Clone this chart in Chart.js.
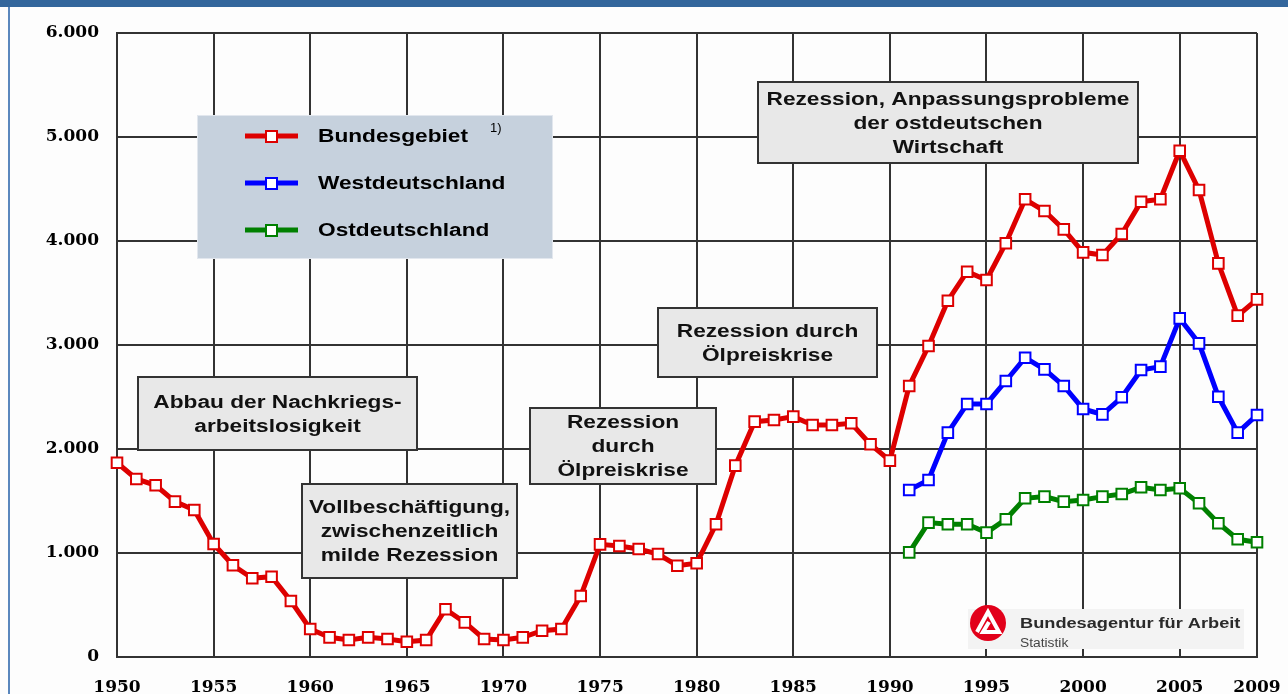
<!DOCTYPE html>
<html lang="de">
<head>
<meta charset="utf-8">
<title>Arbeitslose 1950 - 2009</title>
<script src="https://cdn.jsdelivr.net/npm/chart.js@4.4.1/dist/chart.umd.min.js"></script>
<style>
  html, body { margin: 0; padding: 0; background: #fdfdfd; }
  canvas { display: block; }
</style>
</head>
<body>
<canvas id="chart" width="1288" height="694"></canvas>
<script>
// Arbeitslose in Tausend
const years = [1950, 1951, 1952, 1953, 1954, 1955, 1956, 1957, 1958, 1959,
               1960, 1961, 1962, 1963, 1964, 1965, 1966, 1967, 1968, 1969,
               1970, 1971, 1972, 1973, 1974, 1975, 1976, 1977, 1978, 1979,
               1980, 1981, 1982, 1983, 1984, 1985, 1986, 1987, 1988, 1989,
               1990, 1991, 1992, 1993, 1994, 1995, 1996, 1997, 1998, 1999,
               2000, 2001, 2002, 2003, 2004, 2005, 2006, 2007, 2008, 2009];
const bundesgebiet = [1868, 1712, 1651, 1494, 1413, 1087, 882, 757, 772, 538,
                      269, 189, 163, 189, 173, 147, 163, 459, 333, 173,
                      163, 189, 253, 269, 587, 1083, 1067, 1038, 990, 878,
                      901, 1276, 1840, 2263, 2279, 2311, 2231, 2231, 2247, 2045,
                      1888, 2606, 2990, 3426, 3705, 3625, 3978, 4401, 4288, 4112,
                      3891, 3865, 4067, 4378, 4401, 4868, 4490, 3785, 3282, 3439];
const ostWestYears = [1991, 1992, 1993, 1994, 1995, 1996, 1997, 1998, 1999, 2000,
                      2001, 2002, 2003, 2004, 2005, 2006, 2007, 2008, 2009];
const westdeutschland = [1606, 1702, 2157, 2433, 2433, 2654, 2878, 2766, 2606, 2385,
                         2333, 2497, 2760, 2792, 3256, 3016, 2503, 2157, 2327];
const ostdeutschland = [1006, 1292, 1276, 1276, 1196, 1324, 1526, 1542, 1494, 1510,
                        1542, 1567, 1632, 1606, 1622, 1478, 1286, 1132, 1103];

const xTickYears = [1950, 1955, 1960, 1965, 1970, 1975, 1980, 1985, 1990, 1995, 2000, 2005, 2009];
const seriesNames = ['Bundesgebiet', 'Westdeutschland', 'Ostdeutschland'];
const noteTexts = [
    ['Abbau der Nachkriegs-', 'arbeitslosigkeit'],
    ['Vollbeschäftigung,', 'zwischenzeitlich', 'milde Rezession'],
    ['Rezession', 'durch', 'Ölpreiskrise'],
    ['Rezession durch', 'Ölpreiskrise'],
    ['Rezession, Anpassungsprobleme', 'der ostdeutschen', 'Wirtschaft']
];

// box layout [left, top, right, bottom]
const noteBoxes = [[138, 377, 417, 450], [302, 484, 517, 578], [530, 408, 716, 484],
                   [658, 308, 877, 377], [758, 82, 1138, 163]];

const toPoints = (xs, ys) => xs.map((x, i) => ({ x: x, y: ys[i] }));
const fmtThousand = v => String(v).replace(/\B(?=(\d{3})+(?!\d))/g, '.');

const STRETCH = 1.26;
function wideText(ctx, txt, x, y, sx) {
    ctx.save();
    ctx.translate(x, y);
    ctx.scale(sx, 1);
    ctx.fillText(txt, 0, 0);
    ctx.restore();
}

const decor = {
    id: 'decor',
    beforeDraw(chart) {
        const ctx = chart.ctx;
        ctx.save();
        ctx.fillStyle = '#fdfdfd';
        ctx.fillRect(0, 0, chart.width, chart.height);
        ctx.fillStyle = '#33669c';
        ctx.fillRect(0, 0, chart.width, 7);
        ctx.fillStyle = '#5a87bd';
        ctx.fillRect(8, 7, 2, chart.height - 7);
        ctx.restore();
    },
    beforeDatasetsDraw(chart) {
        const ctx = chart.ctx;
        ctx.save();

        // legend
        ctx.fillStyle = '#c6d1dd';
        ctx.fillRect(197, 115, 356, 144);
        ctx.strokeStyle = '#e2e7ee';
        ctx.lineWidth = 1;
        ctx.strokeRect(197.5, 115.5, 355, 143);
        chart.data.datasets.forEach((ds, i) => {
            const y = 136 + i * 47;
            ctx.strokeStyle = ds.borderColor;
            ctx.lineWidth = 5;
            ctx.beginPath();
            ctx.moveTo(245, y);
            ctx.lineTo(298, y);
            ctx.stroke();
            ctx.fillStyle = '#fff';
            ctx.fillRect(266, y - 5, 11, 11);
            ctx.lineWidth = 2;
            ctx.strokeRect(266, y - 5, 11, 11);
            ctx.fillStyle = '#000';
            ctx.font = 'bold 18px "Liberation Sans", Arial, sans-serif';
            ctx.textAlign = 'left';
            ctx.textBaseline = 'middle';
            wideText(ctx, ds.label, 318, y + 1, STRETCH);
        });
        ctx.font = '13px "Liberation Sans", Arial, sans-serif';
        ctx.fillText('1)', 490, 128);

        // annotation boxes
        noteBoxes.forEach((b, i) => {
            ctx.fillStyle = '#e8e8e8';
            ctx.fillRect(b[0], b[1], b[2] - b[0], b[3] - b[1]);
            ctx.strokeStyle = '#333';
            ctx.lineWidth = 2;
            ctx.strokeRect(b[0], b[1], b[2] - b[0], b[3] - b[1]);
            const lines = noteTexts[i];
            const cx = (b[0] + b[2]) / 2;
            const cy = (b[1] + b[3]) / 2 + 1.5;
            ctx.fillStyle = '#111';
            ctx.font = 'bold 18px "Liberation Sans", Arial, sans-serif';
            ctx.textAlign = 'center';
            ctx.textBaseline = 'middle';
            lines.forEach((t, j) => {
                wideText(ctx, t, cx, cy + (j - (lines.length - 1) / 2) * 24, STRETCH);
            });
        });

        // Bundesagentur logo
        ctx.fillStyle = '#f3f3f3';
        ctx.fillRect(968, 609, 276, 40);
        ctx.fillStyle = '#e2001a';
        ctx.beginPath();
        ctx.arc(988, 623, 18, 0, Math.PI * 2);
        ctx.fill();
        ctx.strokeStyle = '#fff';
        ctx.lineWidth = 4;
        ctx.lineJoin = 'miter';
        ctx.beginPath();
        ctx.moveTo(977, 632);
        ctx.lineTo(988, 612);
        ctx.lineTo(999, 632);
        ctx.lineTo(983, 632);
        ctx.lineTo(989, 622);
        ctx.stroke();
        ctx.fillStyle = '#2a2a2a';
        ctx.textAlign = 'left';
        ctx.textBaseline = 'middle';
        ctx.font = 'bold 14px "Liberation Sans", Arial, sans-serif';
        wideText(ctx, 'Bundesagentur für Arbeit', 1020, 624, 1.3);
        ctx.fillStyle = '#444';
        ctx.font = '12px "Liberation Sans", Arial, sans-serif';
        wideText(ctx, 'Statistik', 1020, 644, 1.15);
        ctx.restore();
    }
};

const lineStyle = color => ({
    borderColor: color,
    backgroundColor: color,
    borderWidth: 5,
    tension: 0,
    pointStyle: 'rect',
    pointRadius: 7.5,
    pointBorderWidth: 2,
    pointBorderColor: color,
    pointBackgroundColor: '#fff',
    clip: false
});

const tickFont = { family: '"DejaVu Serif", serif', weight: 'bold', size: 17 };

new Chart(document.getElementById('chart'), {
    type: 'line',
    data: {
        datasets: [
            Object.assign({ label: seriesNames[0], data: toPoints(years, bundesgebiet) }, lineStyle('#dd0000')),
            Object.assign({ label: seriesNames[1], data: toPoints(ostWestYears, westdeutschland) }, lineStyle('#0000ff')),
            Object.assign({ label: seriesNames[2], data: toPoints(ostWestYears, ostdeutschland) }, lineStyle('#008000'))
        ]
    },
    options: {
        responsive: false,
        animation: false,
        layout: { padding: { top: 33, right: 31, bottom: 0, left: 0 } },
        plugins: { legend: { display: false }, tooltip: { enabled: false } },
        scales: {
            x: {
                type: 'linear',
                min: 1950,
                max: 2009,
                afterBuildTicks: s => { s.ticks = xTickYears.map(v => ({ value: v })); },
                afterFit: s => { s.height = 37; s.paddingLeft = 0; s.paddingRight = 0; },
                grid: { color: '#333', lineWidth: 2, drawTicks: false },
                border: { color: '#333', width: 2 },
                ticks: {
                    font: tickFont, color: '#000', padding: 20,
                    maxRotation: 0, autoSkip: false,
                    callback: v => String(v)
                }
            },
            y: {
                min: 0,
                max: 6000,
                afterFit: s => { s.width = 117; },
                grid: { color: '#333', lineWidth: 2, drawTicks: false },
                border: { color: '#333', width: 2 },
                ticks: {
                    stepSize: 1000, font: tickFont, color: '#000', padding: 18,
                    callback: v => fmtThousand(v)
                }
            }
        }
    },
    plugins: [decor]
});
</script>
</body>
</html>
